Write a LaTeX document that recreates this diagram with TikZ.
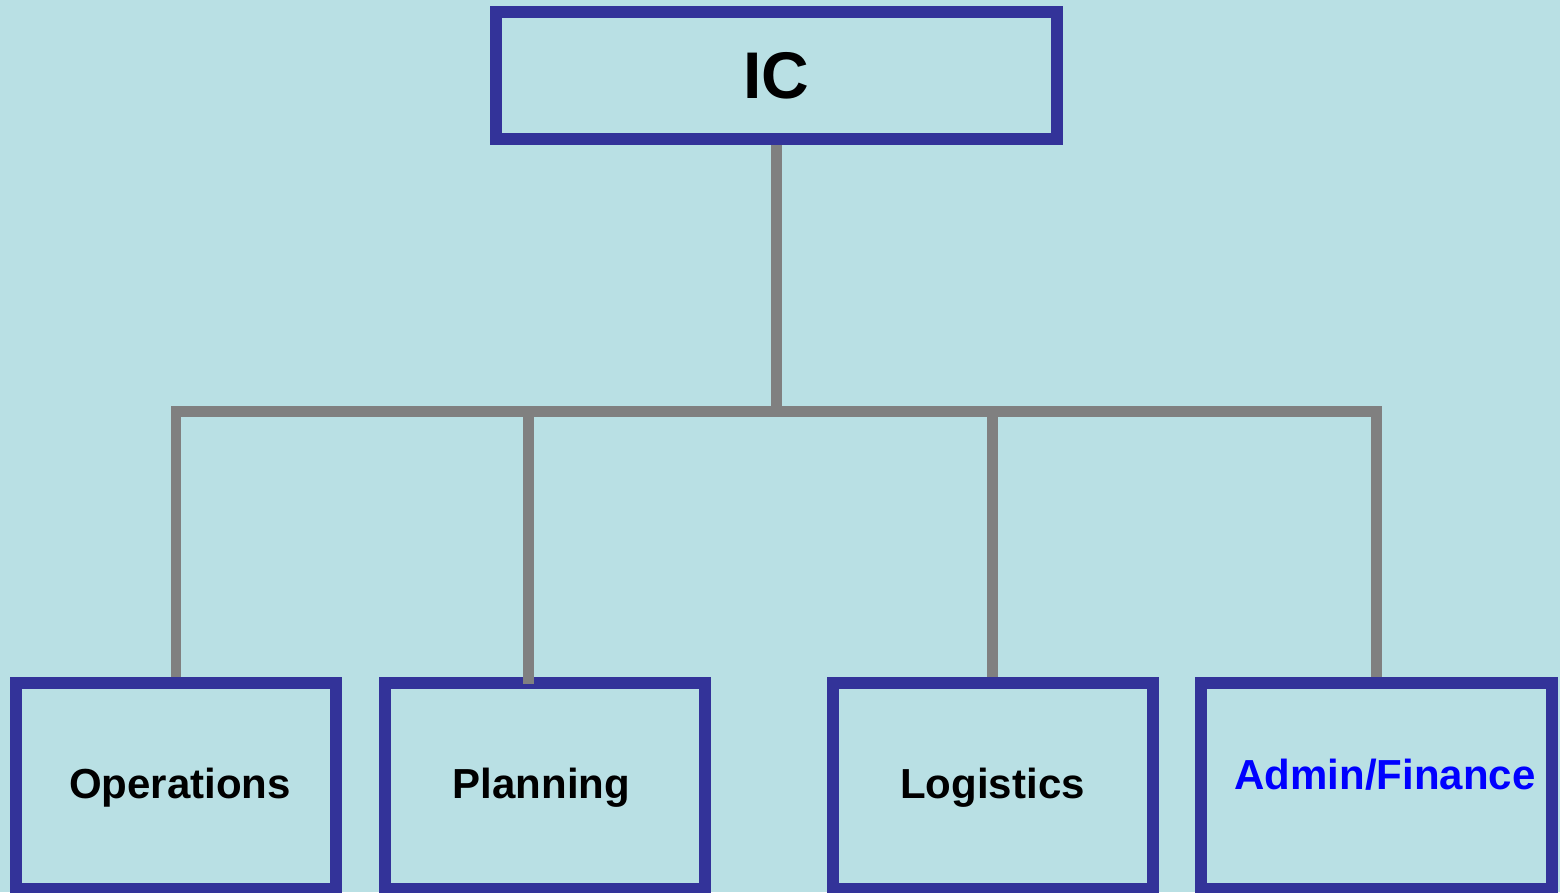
\documentclass[tikz,border=0pt]{standalone}
\usepackage{fontspec}
\setmainfont{Liberation Sans}
\definecolor{bgblue}{RGB}{185,224,228}
\definecolor{boxline}{RGB}{51,51,153}
\definecolor{linkgray}{RGB}{128,128,128}
\definecolor{admblue}{RGB}{0,0,255}
\tikzset{
  box/.style={draw=boxline, line width=12pt, rectangle, inner sep=0pt,
    minimum width=320pt, minimum height=206pt,
    font=\fontsize{42}{50}\selectfont\bfseries, text height=30pt, text depth=6pt},
  link/.style={draw=linkgray, line width=10.5pt, line join=miter}
}
\begin{document}
\begin{tikzpicture}[x=1pt, y=-1pt]
            \useasboundingbox (0,0) rectangle (1560,892);
            \fill[bgblue] (0,0) rectangle (1560,892);
            \node[box, minimum width=560.5pt, minimum height=127.5pt,
              font=\fontsize{66}{76}\selectfont\bfseries, text height=47pt, text depth=0pt]
              (ic) at (776.25,75.25) {IC};
            \node[box] (ops) at (176,786) {\hspace*{8pt}Operations};
            \node[box] (pln) at (544.5,786) {Planning\hspace*{6pt}};
            \node[box] (log) at (992.5,786) {Logistics};
            \node[box, minimum width=351pt] (adm) at (1376.5,786) {};
            \node[font=\fontsize{42}{50}\selectfont\bfseries, text=admblue, inner sep=0pt,
              text height=30pt, text depth=0pt] (admtxt) at (1385,774) {Admin/Finance};
            \coordinate (bus) at (776.25,411.5);
            \draw[link] (ops.north) -- (ops.north |- bus) -- (adm.north |- bus) -- (adm.north);
            \draw[link] ([xshift=-16pt,yshift=-7pt]pln.north) -- ([xshift=-16pt]pln.north |- bus);
            \draw[link] (log.north) -- (log.north |- bus);
            \draw[link] (ic.south) -- (bus);
        \end{tikzpicture}
\end{document}
